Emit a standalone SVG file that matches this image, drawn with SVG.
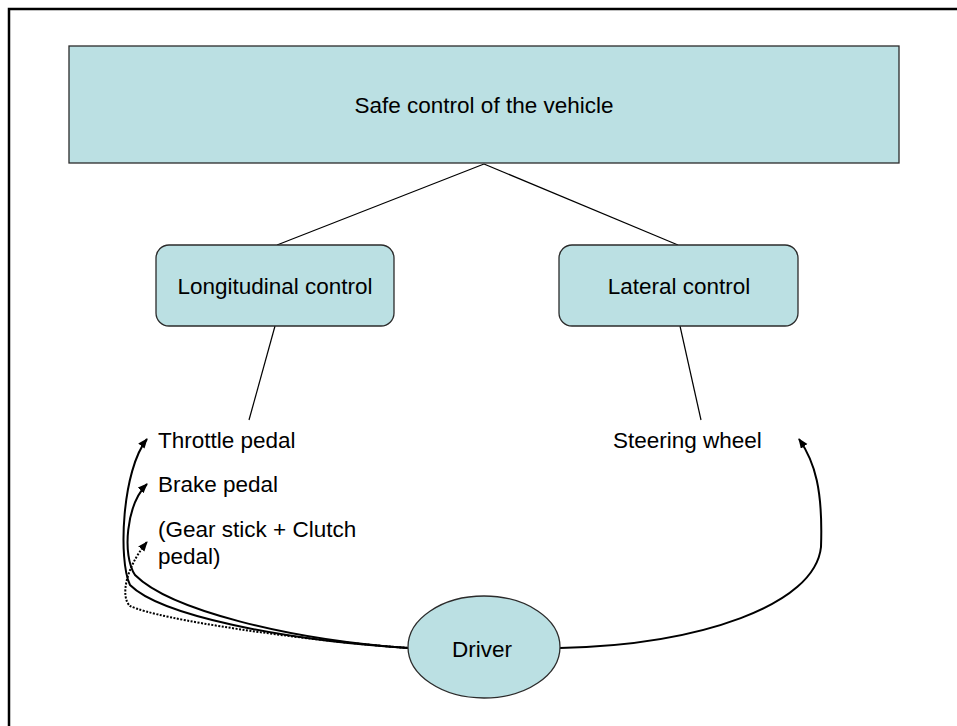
<svg xmlns="http://www.w3.org/2000/svg" width="957" height="726" viewBox="0 0 957 726">
<style>
.box{fill:#BBE0E3;stroke:#2b2b2b;stroke-width:1.3}
.t{font-family:"Liberation Sans",Arial,sans-serif;font-size:22.5px;fill:#000}
.c{text-anchor:middle}
.ln{stroke:#000;stroke-width:1.2;fill:none}
.cv{stroke:#000;stroke-width:2;fill:none;marker-end:url(#ah)}
.dot{stroke-dasharray:2 1.5}
</style>
<defs>
<marker id="ah" markerUnits="userSpaceOnUse" markerWidth="12" markerHeight="10" refX="9" refY="4" orient="auto">
<path d="M0,0 L10,4 L0,8 z" fill="#000"/>
</marker>
</defs>
<rect width="957" height="726" fill="#fff"/>
<path d="M9,726 V9 H957" fill="none" stroke="#000" stroke-width="2.5"/>
<g id="connectors">
<line class="ln" x1="484" y1="164" x2="277" y2="245"/>
<line class="ln" x1="484" y1="164" x2="678" y2="245"/>
<line class="ln" x1="275" y1="326" x2="249" y2="420"/>
<line class="ln" x1="680" y1="326" x2="701" y2="420"/>
<path class="cv" d="M560,648 C700,645 815,605 821,547 C823,490 815,462 799,439"/>
<path class="cv" d="M408,648 C280,640 160,615 130,585 C118,560 122,470 147,439"/>
<path class="cv" d="M408,648 C290,640 170,610 135,575 C122,555 126,505 147,484"/>
<path class="cv dot" d="M408,648 C300,640 160,620 130,606 C121,598 124,570 147,542"/>
</g>
<g id="safe-control">
<rect class="box" x="69" y="46" width="830" height="117"/>
<text class="t c" x="484" y="113">Safe control of the vehicle</text>
</g>
<g id="longitudinal">
<rect class="box" x="156" y="245" width="238" height="81" rx="13"/>
<text class="t c" x="275" y="294">Longitudinal control</text>
</g>
<g id="lateral">
<rect class="box" x="559" y="245" width="239" height="81" rx="13"/>
<text class="t c" x="679" y="294">Lateral control</text>
</g>
<g id="longitudinal-items">
<text class="t" x="158" y="448">Throttle pedal</text>
<text class="t" x="158" y="492">Brake pedal</text>
<text class="t" x="158" y="537">(Gear stick + Clutch</text>
<text class="t" x="158" y="564">pedal)</text>
</g>
<g id="lateral-items">
<text class="t" x="613" y="448">Steering wheel</text>
</g>
<g id="driver">
<ellipse class="box" cx="484" cy="647" rx="76" ry="51"/>
<text class="t c" x="482" y="657">Driver</text>
</g>
</svg>
